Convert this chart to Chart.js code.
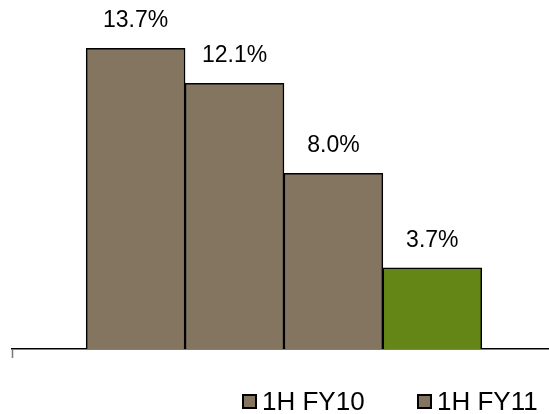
<!DOCTYPE html>
<html>
<head>
<meta charset="utf-8">
<script src="https://cdn.jsdelivr.net/npm/chart.js@4.4.1/dist/chart.umd.min.js"></script>
<style>
  html, body { margin: 0; padding: 0; background: #fff; }
  #wrap { width: 549px; height: 414px; }
</style>
</head>
<body>
<div id="wrap"><canvas id="chart"></canvas></div>
<script>
const barSlots = [0, 1, 2, 3];
const values = [13.7, 12.1, 8.0, 3.7];
const seriesNames = ['1H FY10', '1H FY11'];

const BROWN = 'rgb(131, 117, 96)';
const GREEN = 'rgb(99, 134, 22)';
const barColors = [BROWN, BROWN, BROWN, GREEN];
const FONT = 'Arial, "Liberation Sans", sans-serif';

const valueLabels = {
  id: 'valueLabels',
  afterDatasetsDraw(chart) {
    const ctx = chart.ctx;
    const meta = chart.getDatasetMeta(0);
    ctx.save();
    ctx.font = '23px ' + FONT;
    ctx.fillStyle = '#000';
    ctx.textAlign = 'center';
    ctx.textBaseline = 'alphabetic';
    meta.data.forEach(function(bar, i) {
      ctx.fillText(values[i].toFixed(1) + '%', bar.x, bar.y - 21);
    });
    ctx.restore();
  }
};

// little tick at the left end of the axis
const axisEndTick = {
  id: 'axisEndTick',
  afterDraw(chart) {
    const ctx = chart.ctx;
    const x = Math.round(chart.scales.x.getPixelForValue(chart.scales.x.min)) + 0.5;
    const y = chart.chartArea.bottom;
    ctx.save();
    ctx.strokeStyle = '#777';
    ctx.lineWidth = 1.5;
    ctx.beginPath();
    ctx.moveTo(x, y);
    ctx.lineTo(x, y + 9);
    ctx.stroke();
    ctx.restore();
  }
};

// legend drawn by hand, Excel puts it off-centre
const bottomLegend = {
  id: 'bottomLegend',
  afterDraw(chart) {
    const ctx = chart.ctx;
    const starts = [243, 418];
    ctx.save();
    ctx.font = '26px ' + FONT;
    ctx.textBaseline = 'alphabetic';
    ctx.textAlign = 'left';
    seriesNames.forEach(function(name, i) {
      const x = starts[i];
      ctx.fillStyle = BROWN;
      ctx.fillRect(x, 395, 13, 13);
      ctx.strokeStyle = '#000';
      ctx.lineWidth = 2;
      ctx.strokeRect(x, 395, 13, 13);
      ctx.fillStyle = '#000';
      ctx.fillText(name, x + 19, 410);
    });
    ctx.restore();
  }
};

new Chart(document.getElementById('chart'), {
  type: 'bar',
  data: {
    datasets: [{
      label: seriesNames[0],
      data: barSlots.map(function(s, i) { return { x: s, y: values[i] }; }),
      backgroundColor: barColors,
      borderColor: '#000',
      borderWidth: 1.5,
      borderSkipped: 'bottom',
      barPercentage: 1,
      categoryPercentage: 1
    }]
  },
  options: {
    responsive: true,
    maintainAspectRatio: false,
    animation: false,
    layout: { padding: { left: 12, right: 0, top: 0, bottom: 57 } },
    plugins: {
      legend: { display: false },
      tooltip: { enabled: false }
    },
    scales: {
      x: {
        type: 'linear',
        min: -1.25,
        max: 4.18,
        offset: false,
        ticks: { display: false },
        grid: { display: false, tickLength: 8 },
        border: { display: true, color: '#000', width: 1.5 }
      },
      y: {
        display: false,
        min: 0,
        max: 15.9
      }
    }
  },
  plugins: [valueLabels, axisEndTick, bottomLegend]
});
</script>
</body>
</html>
